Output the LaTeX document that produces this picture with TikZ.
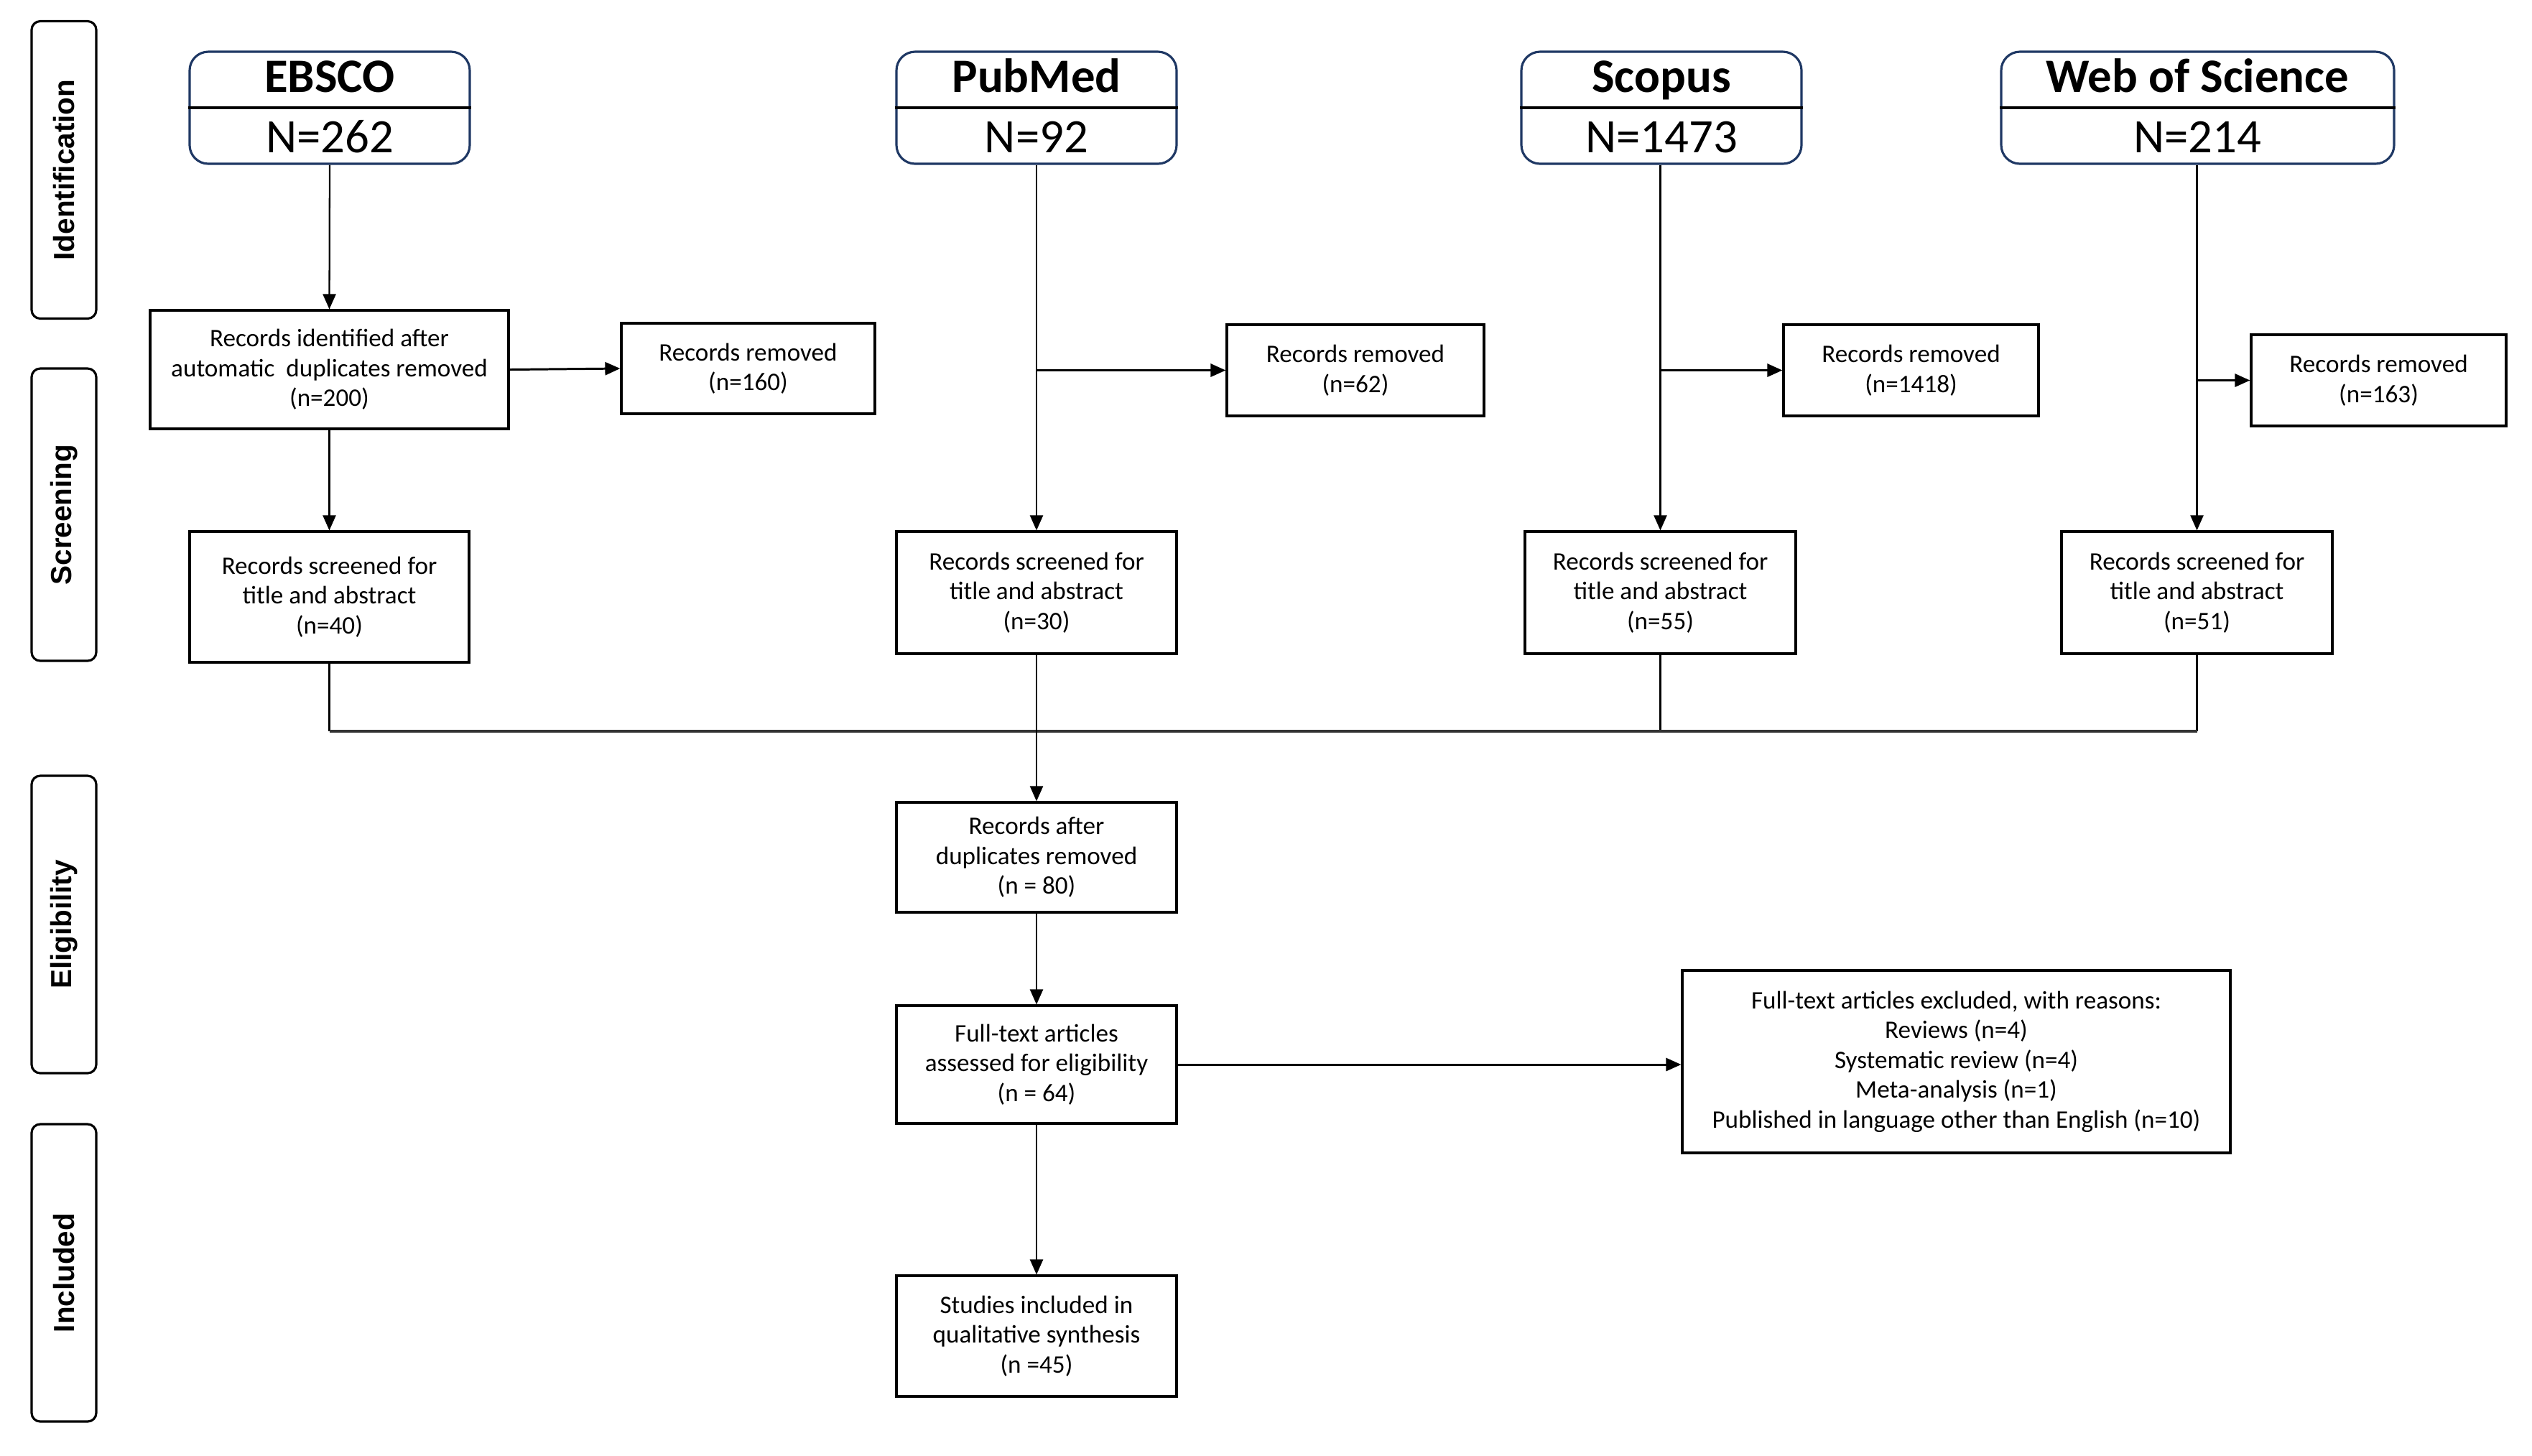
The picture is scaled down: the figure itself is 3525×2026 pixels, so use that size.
\documentclass[tikz,border=0pt]{standalone}
\usepackage{fontspec}
\setmainfont{Carlito}
\newfontfamily\phasefont{Liberation Sans}
\usetikzlibrary{arrows.meta}
\definecolor{navy}{RGB}{31,56,100}
\begin{document}
\begin{tikzpicture}[x=0.1mm,y=-0.1mm,
  box/.style={draw=black,line width=0.9pt,fill=white,align=center,inner sep=1pt,
    font=\fontsize{10}{11.8}\selectfont,execute at begin node={\rule{0pt}{4mm}}},
  srcbox/.style={draw=navy,line width=0.9pt,rounded corners=2.6mm,fill=white,
    minimum height=15.6mm,inner sep=0pt},
  srctitle/.style={font=\fontsize{19}{22}\selectfont\bfseries,inner sep=0pt,anchor=base},
  srcnum/.style={font=\fontsize{19}{22}\selectfont,inner sep=0pt,anchor=base},
  phase/.style={draw=black,line width=0.9pt,rounded corners=1.2mm,minimum width=9mm,
    minimum height=41.4mm,inner sep=0pt},
  phaselabel/.style={rotate=90,font=\fontsize{11.5}{13}\phasefont\bfseries\selectfont,inner sep=0pt},
  conn/.style={line width=0.65pt},
  arr/.style={line width=0.65pt,-{Triangle[length=2.1mm,width=1.8mm]}},
  branch/.style={line width=0.85pt,-{Triangle[length=2.1mm,width=1.8mm]}},
  merge/.style={line width=0.9pt,draw=black!80}
]
\useasboundingbox (0,0) rectangle (3525,2026);

% phase boxes
\node[phase] (pid) at (89,236.5) {};
\node[phaselabel] (pidl) at (pid.center) {Identification};
\node[phase,minimum height=40.7mm] (psc) at (89,716.5) {};
\node[phaselabel] (pscl) at (psc.center) {Screening};
\node[phase] (pel) at (89,1287) {};
\node[phaselabel] (pell) at (pel.center) {Eligibility};
\node[phase] (pin) at (89,1772) {};
\node[phaselabel] (pinl) at (pin.center) {Included};

% source boxes
\foreach \nm/\cx/\w/\ttl/\num in {ebsco/459/39/EBSCO/N=262, pubmed/1443/39/PubMed/N=92,
    scopus/2313/39/Scopus/N=1473, wos/3059.5/54.7/Web of Science/N=214}{
  \node[srcbox,minimum width=\w mm] (\nm) at (\cx,150) {};
  \draw[line width=0.9pt] (\nm.west) -- (\nm.east);
  \node[srctitle] (\nm t) at (\cx,128) {\ttl};
  \node[srcnum] (\nm n) at (\cx,212) {\num};
}

% identification / removal boxes
\node[box,minimum width=49.9mm,minimum height=16.5mm] (ident) at (458.5,514.5)
  {Records identified after\\automatic\ \ duplicates removed\\(n=200)};
\node[box,minimum width=35.3mm,minimum height=12.6mm] (rem160) at (1041.5,513)
  {Records removed\\(n=160)};
\node[box,minimum width=35.8mm,minimum height=12.7mm] (rem62) at (1887,515.5)
  {Records removed\\(n=62)};
\node[box,minimum width=35.5mm,minimum height=12.7mm] (rem1418) at (2660.5,515.5)
  {Records removed\\(n=1418)};
\node[box,minimum width=35.5mm,minimum height=12.7mm] (rem163) at (3311.5,529.5)
  {Records removed\\(n=163)};

% screened boxes
\node[box,minimum width=38.9mm,minimum height=18.2mm] (scr40) at (458.5,831)
  {Records screened for\\title and abstract\\(n=40)};
\node[box,minimum width=39mm,minimum height=17mm] (scr30) at (1443,825)
  {Records screened for\\title and abstract\\(n=30)};
\node[box,minimum width=37.7mm,minimum height=17mm] (scr55) at (2311.5,825)
  {Records screened for\\title and abstract\\(n=55)};
\node[box,minimum width=37.7mm,minimum height=17mm] (scr51) at (3058.5,825)
  {Records screened for\\title and abstract\\(n=51)};

% lower boxes
\node[box,minimum width=39mm,minimum height=15.3mm] (after) at (1443,1193.5)
  {Records after\\duplicates removed\\(n = 80)};
\node[box,minimum width=39mm,minimum height=16.4mm] (full) at (1443,1482)
  {Full-text articles\\assessed for eligibility\\(n = 64)};
\node[box,minimum width=39mm,minimum height=16.8mm] (stud) at (1443,1860)
  {Studies included in\\qualitative synthesis\\(n =45)};
\node[box,minimum width=76.3mm,minimum height=25.4mm] (excl) at (2723.5,1478)
  {Full-text articles excluded, with reasons:\\Reviews (n=4)\\Systematic review (n=4)\\Meta-analysis (n=1)\\Published in language other than English (n=10)};

% connectors
\draw[arr] (ebsco.south) -- (ident.north);
\draw[branch] (ident.east) -- (rem160.west);
\draw[arr] (ident.south) -- (scr40.north);

\draw[arr] (pubmed.south) -- (scr30.north);
\draw[branch] (pubmed.south |- rem62.west) -- (rem62.west);
\draw[arr] (scopus.south -| scr55.north) -- (scr55.north);
\draw[branch] (scr55.north |- rem1418.west) -- (rem1418.west);
\draw[arr] (wos.south -| scr51.north) -- (scr51.north);
\draw[branch] (scr51.north |- rem163.west) -- (rem163.west);

\coordinate (mline) at (0,1018);
\draw[conn] (scr40.south) -- (scr40.south |- mline);
\draw[conn] (scr55.south) -- (scr55.south |- mline);
\draw[conn] (scr51.south) -- (scr51.south |- mline);
\draw[merge] (scr40.south |- mline) -- (scr51.south |- mline);
\draw[arr] (scr30.south) -- (after.north);
\draw[arr] (after.south) -- (full.north);
\draw[branch] (full.east) -- (excl.west |- full.east);
\draw[arr] (full.south) -- (stud.north);
\end{tikzpicture}
\end{document}
